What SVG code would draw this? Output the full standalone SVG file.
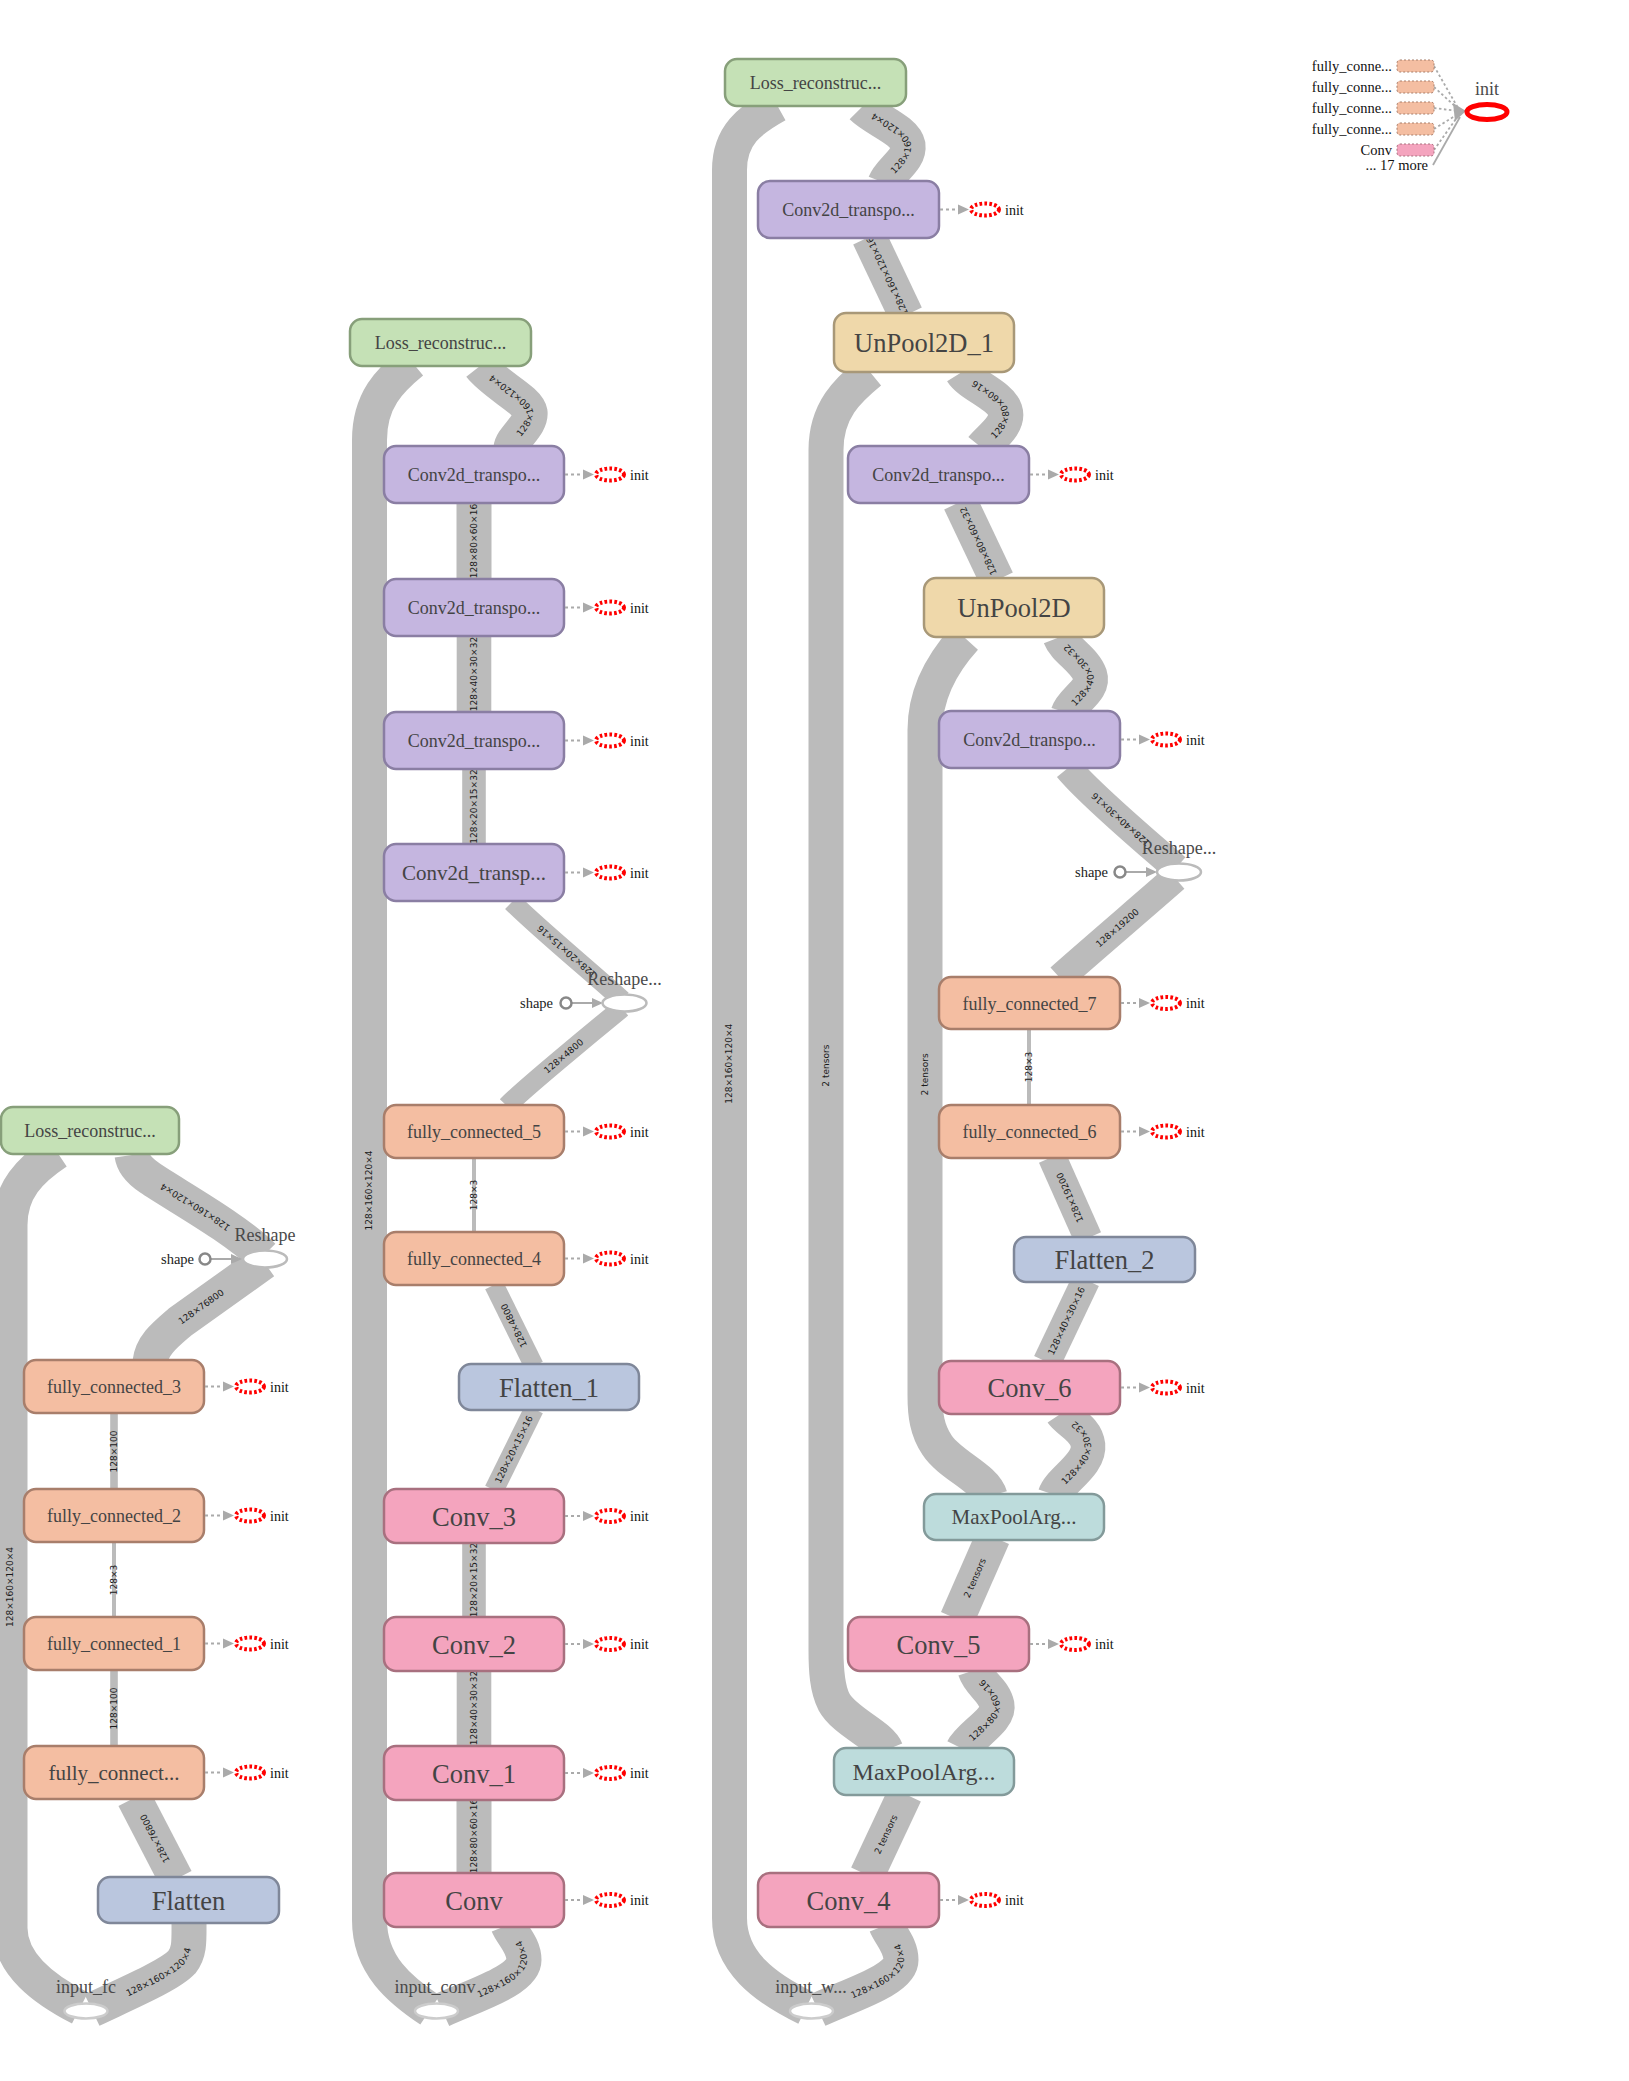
<svg xmlns="http://www.w3.org/2000/svg" width="1629" height="2081" viewBox="0 0 1629 2081">
<style>
.e{fill:none;stroke:#bbb;stroke-linecap:butt;stroke-linejoin:round}
.w35{stroke-width:35}.w346{stroke-width:34.6}.w285{stroke-width:28.5}.w236{stroke-width:23.6}.w196{stroke-width:19.6}.w76{stroke-width:7.6}.w4{stroke-width:4}
.el{font-family:"DejaVu Sans",sans-serif;font-size:9px;fill:#1a1a1a;text-anchor:middle;dominant-baseline:central}
.n rect{stroke-width:2.5}
.nl{font-family:"Liberation Serif",serif;fill:#444;text-anchor:middle}
.t18{font-size:18px}.t21{font-size:21px}.t24{font-size:24px}.t26{font-size:26.5px}
.loss rect{fill:#c5e1b6;stroke:#879f7a}
.ct rect{fill:#c5b6e0;stroke:#8a7ea3}
.fc rect{fill:#f4bea2;stroke:#a87e6b}
.fl rect{fill:#bac6de;stroke:#7f8799}
.cv rect{fill:#f4a4be;stroke:#a8707f}
.up rect{fill:#efd8aa;stroke:#a89878}
.mp rect{fill:#bddcdc;stroke:#839a9a}
.it{font-family:"Liberation Serif",serif;font-size:14px;fill:#111}
.io{fill:#fff;stroke:#ccc;stroke-width:2.5}
.rs{fill:#fff;stroke:#bbb;stroke-width:2.5}
.sc{fill:#fff;stroke:#888;stroke-width:2.5}
.sl{font-family:"Liberation Serif",serif;font-size:14.5px;fill:#222;text-anchor:end}
.op{font-family:"Liberation Serif",serif;font-size:18px;fill:#4a4a4a;text-anchor:middle}
.lg{font-family:"Liberation Serif",serif;font-size:14.5px;fill:#111;text-anchor:end}
</style>
<defs>
<g id="initm">
<line x1="1" y1="0" x2="20" y2="0" stroke="#aaa" stroke-width="2" stroke-dasharray="3 3"/>
<ellipse cx="46" cy="0" rx="14" ry="6" fill="#fff" stroke="#f00" stroke-width="4" stroke-dasharray="2.6 2.2"/>
<path d="M19,-5 L30,0 L19,5 Z" fill="#aaa"/>
</g>
<g id="shapem">
<line x1="6" y1="0" x2="28" y2="0" stroke="#aaa" stroke-width="2"/>
<path d="M26,-5 L37,0 L26,5 Z" fill="#aaa"/>
<circle cx="0" cy="0" r="5.5" class="sc"/>
</g>
</defs>

<g id="edges">
<!-- column A -->
<path id="eA1" class="e w35" d="M 80 2008 C 45 1990, 10 1965, 10 1928 L 10 1225 C 10 1190, 30 1170, 57 1152"/>
<path id="eA2" class="e w35" d="M 263 1256 C 235 1228, 175 1195, 150 1178 C 138 1170, 133 1162, 132 1155"/>
<path id="eA3" class="e w35" d="M 150 1362 C 152 1345, 165 1335, 180 1322 L 264 1262"/>
<path id="eA4" class="e w76" d="M 114 1490 L 114 1413"/>
<path id="eA5" class="e w4" d="M 114 1618 L 114 1542"/>
<path id="eA6" class="e w76" d="M 114 1747 L 114 1670"/>
<path id="eA7" class="e w35" d="M 176 1879 L 134 1798"/>
<path id="eA8" class="e w35" d="M 92 2010 C 130 1992, 170 1975, 182 1962 C 190 1952, 189 1940, 189 1921"/>
<!-- column B -->
<path id="eB1" class="e w35" d="M 430 2010 C 400 1990, 369.5 1965, 369.5 1920 L 369.5 440 C 369.5 400, 390 380, 412 362"/>
<path id="eB2" class="e w35" d="M 511 448 C 512 438, 532 425, 530 412 C 528 400, 495 385, 480 366"/>
<path id="eB3" class="e w35" d="M 474 580 L 474 502"/>
<path id="eB4" class="e w346" d="M 474 713 L 474 635"/>
<path id="eB5" class="e w236" d="M 474 845 L 474 768"/>
<path id="eB6" class="e w196" d="M 622 1000 C 595 975, 540 930, 512 902"/>
<path id="eB7" class="e w196" d="M 507 1106 C 520 1092, 595 1030, 622 1008"/>
<path id="eB8" class="e w4" d="M 474 1233 L 474 1157"/>
<path id="eB9" class="e w196" d="M 534 1366 L 494 1285"/>
<path id="eB10" class="e w196" d="M 494 1490 L 534 1409"/>
<path id="eB11" class="e w236" d="M 474 1618 L 474 1542"/>
<path id="eB12" class="e w346" d="M 474 1747 L 474 1669"/>
<path id="eB13" class="e w35" d="M 474 1874 L 474 1798"/>
<path id="eB14" class="e w35" d="M 442 2010 C 475 1995, 524 1980, 524 1960 C 524 1945, 512 1935, 508 1925"/>
<!-- column C -->
<path id="eC1" class="e w35" d="M 806 2008 C 765 1988, 729.5 1962, 729.5 1918 L 729.5 170 C 729.5 135, 750 120, 777 105"/>
<path id="eC2" class="e w35" d="M 885 183 C 890 170, 910 160, 908 145 C 905 130, 875 120, 862 107"/>
<path id="eC3" class="e w35" d="M 906 315 L 869 237"/>
<path id="eC4" class="e w35" d="M 886 1750 C 880 1735, 845 1722, 834 1702 C 827 1688, 826 1670, 826 1650 L 826 450 C 826 410, 848 390, 870 372"/>
<path id="eC5" class="e w35" d="M 982 448 C 990 438, 1010 425, 1005 410 C 1000 395, 970 385, 962 372"/>
<path id="eC6" class="e w35" d="M 867 1875 L 905 1794"/>
<path id="eC7" class="e w35" d="M 818 2010 C 850 1995, 901 1980, 901 1960 C 901 1945, 890 1935, 886 1925"/>
<path id="eC8" class="e w35" d="M 963 1749 C 970 1735, 1000 1720, 997 1705 C 994 1690, 980 1685, 975 1670"/>
<path id="eC9" class="e w35" d="M 957 1619 L 993 1537"/>
<!-- column D -->
<path id="eD1" class="e w35" d="M 997 580 L 960 502"/>
<path id="eD2" class="e w35" d="M 990 1496 C 985 1478, 950 1465, 937 1445 C 927 1430, 925 1415, 925 1395 L 925 730 C 925 690, 945 660, 965 638"/>
<path id="eD3" class="e w346" d="M 1068 713 C 1072 700, 1095 690, 1090 675 C 1085 660, 1065 650, 1060 637"/>
<path id="eD4" class="e w285" d="M 1176 868 C 1150 845, 1090 795, 1068 768"/>
<path id="eD5" class="e w285" d="M 1060 978 C 1080 960, 1150 900, 1175 878"/>
<path id="eD6" class="e w4" d="M 1029 1106 L 1029 1028"/>
<path id="eD7" class="e w285" d="M 1088 1238 L 1052 1157"/>
<path id="eD8" class="e w285" d="M 1047 1362 L 1086 1280"/>
<path id="eD9" class="e w346" d="M 1055 1495 C 1060 1480, 1090 1465, 1088 1445 C 1086 1428, 1068 1422, 1062 1413"/>

<g id="edge-labels">
<text class="el"><textPath href="#eA1" startOffset="50%">128×160×120×4</textPath></text>
<text class="el"><textPath href="#eA2" startOffset="50%">128×160×120×4</textPath></text>
<text class="el"><textPath href="#eA3" startOffset="50%">128×76800</textPath></text>
<text class="el"><textPath href="#eA4" startOffset="50%">128×100</textPath></text>
<text class="el"><textPath href="#eA5" startOffset="50%">128×3</textPath></text>
<text class="el"><textPath href="#eA6" startOffset="50%">128×100</textPath></text>
<text class="el"><textPath href="#eA7" startOffset="50%">128×76800</textPath></text>
<text class="el"><textPath href="#eA8" startOffset="54%">128×160×120×4</textPath></text>
<text class="el"><textPath href="#eB1" startOffset="50%">128×160×120×4</textPath></text>
<text class="el"><textPath href="#eB2" startOffset="50%">128×160×120×4</textPath></text>
<text class="el"><textPath href="#eB3" startOffset="50%">128×80×60×16</textPath></text>
<text class="el"><textPath href="#eB4" startOffset="50%">128×40×30×32</textPath></text>
<text class="el"><textPath href="#eB5" startOffset="50%">128×20×15×32</textPath></text>
<text class="el"><textPath href="#eB6" startOffset="50%">128×20×15×16</textPath></text>
<text class="el"><textPath href="#eB7" startOffset="50%">128×4800</textPath></text>
<text class="el"><textPath href="#eB8" startOffset="50%">128×3</textPath></text>
<text class="el"><textPath href="#eB9" startOffset="50%">128×4800</textPath></text>
<text class="el"><textPath href="#eB10" startOffset="50%">128×20×15×16</textPath></text>
<text class="el"><textPath href="#eB11" startOffset="50%">128×20×15×32</textPath></text>
<text class="el"><textPath href="#eB12" startOffset="50%">128×40×30×32</textPath></text>
<text class="el"><textPath href="#eB13" startOffset="50%">128×80×60×16</textPath></text>
<text class="el"><textPath href="#eB14" startOffset="57%">128×160×120×4</textPath></text>
<text class="el"><textPath href="#eC1" startOffset="50%">128×160×120×4</textPath></text>
<text class="el"><textPath href="#eC2" startOffset="50%">128×160×120×4</textPath></text>
<text class="el"><textPath href="#eC3" startOffset="50%">128×160×120×16</textPath></text>
<text class="el"><textPath href="#eC4" startOffset="50%">2 tensors</textPath></text>
<text class="el"><textPath href="#eC5" startOffset="50%">128×80×60×16</textPath></text>
<text class="el"><textPath href="#eC6" startOffset="50%">2 tensors</textPath></text>
<text class="el"><textPath href="#eC7" startOffset="55%">128×160×120×4</textPath></text>
<text class="el"><textPath href="#eC8" startOffset="50%">128×80×60×16</textPath></text>
<text class="el"><textPath href="#eC9" startOffset="50%">2 tensors</textPath></text>
<text class="el"><textPath href="#eD1" startOffset="50%">128×80×60×32</textPath></text>
<text class="el"><textPath href="#eD2" startOffset="50%">2 tensors</textPath></text>
<text class="el"><textPath href="#eD3" startOffset="50%">128×40×30×32</textPath></text>
<text class="el"><textPath href="#eD4" startOffset="50%">128×40×30×16</textPath></text>
<text class="el"><textPath href="#eD5" startOffset="50%">128×19200</textPath></text>
<text class="el"><textPath href="#eD6" startOffset="50%">128×3</textPath></text>
<text class="el"><textPath href="#eD7" startOffset="50%">128×19200</textPath></text>
<text class="el"><textPath href="#eD8" startOffset="50%">128×40×30×16</textPath></text>
<text class="el"><textPath href="#eD9" startOffset="50%">128×40×30×32</textPath></text>
</g>
</g>

<!-- small op nodes -->
<g id="input_fc"><ellipse class="io" cx="86" cy="2011" rx="21.5" ry="7.5"/><text class="op" x="86" y="1993">input_fc</text></g>
<g id="input_conv"><ellipse class="io" cx="436.5" cy="2011" rx="21.5" ry="7.5"/><text class="op" x="435" y="1993">input_conv</text></g>
<g id="input_w"><ellipse class="io" cx="811.5" cy="2011" rx="21.5" ry="7.5"/><text class="op" x="811" y="1993">input_w...</text></g>

<g id="reshapeA"><use href="#shapem" x="205" y="1259"/><text class="sl" x="194" y="1264">shape</text><ellipse class="rs" cx="265" cy="1259" rx="22" ry="8.5"/><text class="op" x="265" y="1241">Reshape</text></g>
<g id="reshapeB"><use href="#shapem" x="566" y="1003"/><text class="sl" x="553" y="1008">shape</text><ellipse class="rs" cx="624.5" cy="1003" rx="22" ry="8.5"/><text class="op" x="624.5" y="985">Reshape...</text></g>
<g id="reshapeD"><use href="#shapem" x="1120" y="872"/><text class="sl" x="1108" y="877">shape</text><ellipse class="rs" cx="1179" cy="872" rx="22" ry="8.5"/><text class="op" x="1179" y="854">Reshape...</text></g>

<!-- column A nodes -->
<g id="lossA" class="n loss"><rect x="1" y="1107" width="178" height="47" rx="12"/><text class="nl t18" x="90" y="1137">Loss_reconstruc...</text></g>
<g id="fc3" class="n fc"><rect x="24" y="1360" width="180" height="53" rx="12"/><text class="nl t18" x="114" y="1393">fully_connected_3</text></g>
<g id="fc2" class="n fc"><rect x="24" y="1489" width="180" height="53" rx="12"/><text class="nl t18" x="114" y="1522">fully_connected_2</text></g>
<g id="fc1" class="n fc"><rect x="24" y="1617" width="180" height="53" rx="12"/><text class="nl t18" x="114" y="1650">fully_connected_1</text></g>
<g id="fc0" class="n fc"><rect x="24" y="1746" width="180" height="53" rx="12"/><text class="nl t21" x="114" y="1780">fully_connect...</text></g>
<g id="flatten" class="n fl"><rect x="98" y="1877" width="181" height="46" rx="12"/><text class="nl t26" x="188.5" y="1910">Flatten</text></g>

<!-- column B nodes -->
<g id="lossB" class="n loss"><rect x="350" y="319" width="181" height="47" rx="12"/><text class="nl t18" x="440.5" y="349">Loss_reconstruc...</text></g>
<g id="ctB1" class="n ct"><rect x="384" y="446" width="180" height="57" rx="12"/><text class="nl t18" x="474" y="481">Conv2d_transpo...</text></g>
<g id="ctB2" class="n ct"><rect x="384" y="579" width="180" height="57" rx="12"/><text class="nl t18" x="474" y="614">Conv2d_transpo...</text></g>
<g id="ctB3" class="n ct"><rect x="384" y="712" width="180" height="57" rx="12"/><text class="nl t18" x="474" y="747">Conv2d_transpo...</text></g>
<g id="ctB4" class="n ct"><rect x="384" y="844" width="180" height="57" rx="12"/><text class="nl t21" x="474" y="880">Conv2d_transp...</text></g>
<g id="fc5" class="n fc"><rect x="384" y="1105" width="180" height="53" rx="12"/><text class="nl t18" x="474" y="1138">fully_connected_5</text></g>
<g id="fc4" class="n fc"><rect x="384" y="1232" width="180" height="53" rx="12"/><text class="nl t18" x="474" y="1265">fully_connected_4</text></g>
<g id="flatten1" class="n fl"><rect x="459" y="1364" width="180" height="46" rx="12"/><text class="nl t26" x="549" y="1397">Flatten_1</text></g>
<g id="conv3" class="n cv"><rect x="384" y="1489" width="180" height="54" rx="12"/><text class="nl t26" x="474" y="1526">Conv_3</text></g>
<g id="conv2" class="n cv"><rect x="384" y="1617" width="180" height="54" rx="12"/><text class="nl t26" x="474" y="1654">Conv_2</text></g>
<g id="conv1" class="n cv"><rect x="384" y="1746" width="180" height="54" rx="12"/><text class="nl t26" x="474" y="1783">Conv_1</text></g>
<g id="conv" class="n cv"><rect x="384" y="1873" width="180" height="54" rx="12"/><text class="nl t26" x="474" y="1910">Conv</text></g>

<!-- column C nodes -->
<g id="lossC" class="n loss"><rect x="725" y="59" width="181" height="47" rx="12"/><text class="nl t18" x="815.5" y="89">Loss_reconstruc...</text></g>
<g id="ctC1" class="n ct"><rect x="758" y="181" width="181" height="57" rx="12"/><text class="nl t18" x="848.5" y="216">Conv2d_transpo...</text></g>
<g id="unpool1" class="n up"><rect x="834" y="313" width="180" height="59" rx="12"/><text class="nl t26" x="924" y="352">UnPool2D_1</text></g>
<g id="conv5" class="n cv"><rect x="848" y="1617" width="181" height="54" rx="12"/><text class="nl t26" x="938.5" y="1654">Conv_5</text></g>
<g id="maxpoolB" class="n mp"><rect x="834" y="1748" width="180" height="47" rx="12"/><text class="nl t24" x="924" y="1780">MaxPoolArg...</text></g>
<g id="conv4" class="n cv"><rect x="758" y="1873" width="181" height="54" rx="12"/><text class="nl t26" x="848.5" y="1910">Conv_4</text></g>

<!-- column D nodes -->
<g id="ctD1" class="n ct"><rect x="848" y="446" width="181" height="57" rx="12"/><text class="nl t18" x="938.5" y="481">Conv2d_transpo...</text></g>
<g id="unpool" class="n up"><rect x="924" y="578" width="180" height="59" rx="12"/><text class="nl t26" x="1014" y="617">UnPool2D</text></g>
<g id="ctD2" class="n ct"><rect x="939" y="711" width="181" height="57" rx="12"/><text class="nl t18" x="1029.5" y="746">Conv2d_transpo...</text></g>
<g id="fc7" class="n fc"><rect x="939" y="977" width="181" height="52" rx="12"/><text class="nl t18" x="1029.5" y="1010">fully_connected_7</text></g>
<g id="fc6" class="n fc"><rect x="939" y="1105" width="181" height="53" rx="12"/><text class="nl t18" x="1029.5" y="1138">fully_connected_6</text></g>
<g id="flatten2" class="n fl"><rect x="1014" y="1237" width="181" height="45" rx="12"/><text class="nl t26" x="1104.5" y="1269">Flatten_2</text></g>
<g id="conv6" class="n cv"><rect x="939" y="1361" width="181" height="53" rx="12"/><text class="nl t26" x="1029.5" y="1397">Conv_6</text></g>
<g id="maxpoolT" class="n mp"><rect x="924" y="1494" width="180" height="46" rx="12"/><text class="nl t21" x="1014" y="1524">MaxPoolArg...</text></g>

<!-- init annotations -->
<g id="inits">
<use href="#initm" x="204" y="1386.5"/><text class="it" x="270" y="1391.5">init</text>
<use href="#initm" x="204" y="1515.5"/><text class="it" x="270" y="1520.5">init</text>
<use href="#initm" x="204" y="1643.5"/><text class="it" x="270" y="1648.5">init</text>
<use href="#initm" x="204" y="1772.5"/><text class="it" x="270" y="1777.5">init</text>
<use href="#initm" x="564" y="474.5"/><text class="it" x="630" y="479.5">init</text>
<use href="#initm" x="564" y="607.5"/><text class="it" x="630" y="612.5">init</text>
<use href="#initm" x="564" y="740.5"/><text class="it" x="630" y="745.5">init</text>
<use href="#initm" x="564" y="872.5"/><text class="it" x="630" y="877.5">init</text>
<use href="#initm" x="564" y="1131.5"/><text class="it" x="630" y="1136.5">init</text>
<use href="#initm" x="564" y="1258.5"/><text class="it" x="630" y="1263.5">init</text>
<use href="#initm" x="564" y="1516"/><text class="it" x="630" y="1521">init</text>
<use href="#initm" x="564" y="1644"/><text class="it" x="630" y="1649">init</text>
<use href="#initm" x="564" y="1773"/><text class="it" x="630" y="1778">init</text>
<use href="#initm" x="564" y="1900"/><text class="it" x="630" y="1905">init</text>
<use href="#initm" x="939" y="209.5"/><text class="it" x="1005" y="214.5">init</text>
<use href="#initm" x="939" y="1900"/><text class="it" x="1005" y="1905">init</text>
<use href="#initm" x="1029" y="1644"/><text class="it" x="1095" y="1649">init</text>
<use href="#initm" x="1029" y="474.5"/><text class="it" x="1095" y="479.5">init</text>
<use href="#initm" x="1120" y="739.5"/><text class="it" x="1186" y="744.5">init</text>
<use href="#initm" x="1120" y="1003"/><text class="it" x="1186" y="1008">init</text>
<use href="#initm" x="1120" y="1131.5"/><text class="it" x="1186" y="1136.5">init</text>
<use href="#initm" x="1120" y="1387.5"/><text class="it" x="1186" y="1392.5">init</text>
</g>

<!-- legend: init node with its inputs -->
<g id="init-legend">
<g stroke="#aaa" stroke-width="1.8" stroke-dasharray="2.5 2.5" fill="none">
<line x1="1434" y1="66" x2="1458" y2="108"/>
<line x1="1434" y1="87" x2="1458" y2="109"/>
<line x1="1434" y1="108" x2="1458" y2="111"/>
<line x1="1434" y1="129" x2="1458" y2="114"/>
<line x1="1434" y1="150" x2="1458" y2="116"/>
</g>
<line x1="1433" y1="165" x2="1460" y2="117" stroke="#aaa" stroke-width="1.8"/>
<path d="M1453,103 L1466,111 L1455,121 Z" fill="#aaa"/>
<g stroke="#a87e6b" stroke-width="1" stroke-dasharray="2 2">
<rect x="1397" y="60" width="37" height="12" rx="3" fill="#f4bea2"/>
<rect x="1397" y="81" width="37" height="12" rx="3" fill="#f4bea2"/>
<rect x="1397" y="102" width="37" height="12" rx="3" fill="#f4bea2"/>
<rect x="1397" y="123" width="37" height="12" rx="3" fill="#f4bea2"/>
<rect x="1397" y="144" width="37" height="12" rx="3" fill="#f4a4be" stroke="#a8707f"/>
</g>
<text class="lg" x="1392" y="71">fully_conne...</text>
<text class="lg" x="1392" y="92">fully_conne...</text>
<text class="lg" x="1392" y="113">fully_conne...</text>
<text class="lg" x="1392" y="134">fully_conne...</text>
<text class="lg" x="1392" y="155">Conv</text>
<text class="lg" x="1428" y="170">... 17 more</text>
<ellipse cx="1487" cy="112" rx="20" ry="7.5" fill="#fff" stroke="#f00" stroke-width="5"/>
<text class="op" x="1487" y="95">init</text>
</g>
</svg>
